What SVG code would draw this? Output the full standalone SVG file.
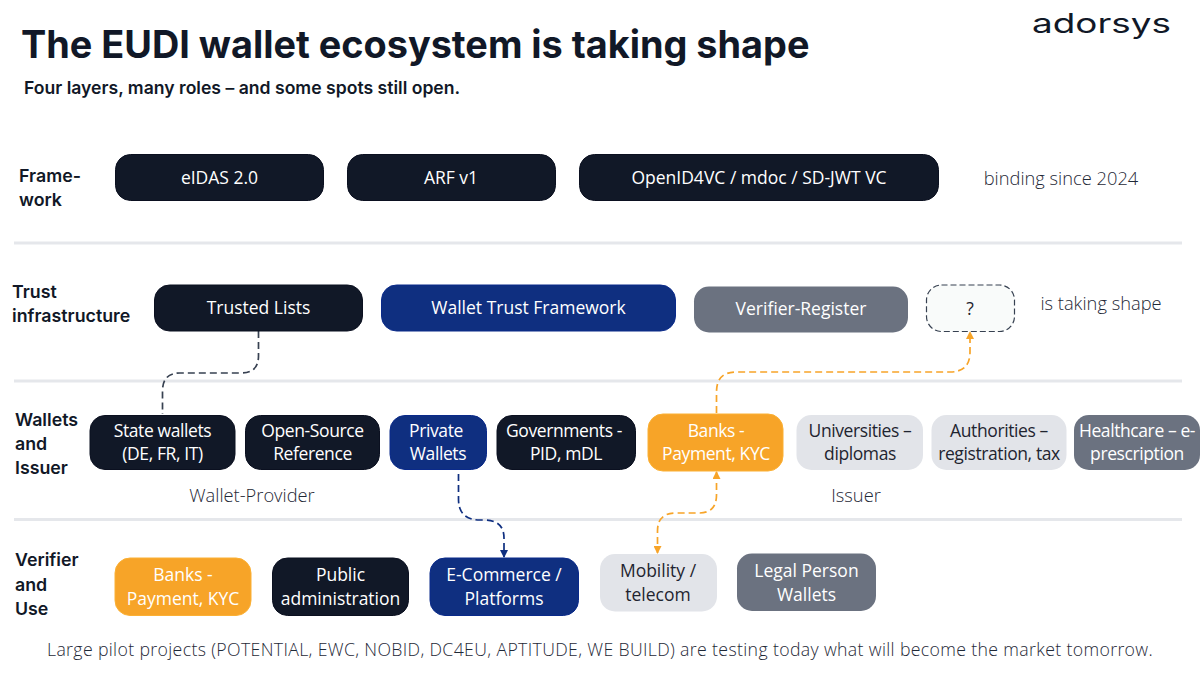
<svg xmlns="http://www.w3.org/2000/svg" width="1200" height="675" viewBox="0 0 1200 675">
<style>
text{font-family:"Open Sans","Noto Sans",sans-serif;text-anchor:middle}
.h{font-family:Inter,"Liberation Sans",sans-serif;font-weight:600;font-size:17.800px;fill:#111827;text-anchor:start}
.n{font-size:17.500px}
.m{font-size:17.500px;letter-spacing:-0.400px}
.w{fill:#fff}.d{fill:#1f2430}
.note{font-size:18.300px;fill:#1f2937;font-weight:300}
.dark{fill:#111827;stroke:#0b1020;stroke-width:1}
.blue{fill:#0f2f80;stroke:#0a2a8a;stroke-width:1}
.gray{fill:#6b7280}
.light{fill:#e2e4e9}
.org{fill:#f7a428;stroke:#fbb034;stroke-width:1}
.sep{stroke:#e5e7eb;stroke-width:3}
.c{fill:none;stroke-width:1.700;stroke-dasharray:7 4}
</style>
<defs>
<marker id="ao" viewBox="0 0 8 8" refX="7" refY="4" markerWidth="8" markerHeight="8" orient="auto-start-reverse" markerUnits="userSpaceOnUse"><path d="M0 0L8 4L0 8z" fill="#f7a428"/></marker>
<marker id="ab" viewBox="0 0 8 8" refX="7" refY="4" markerWidth="8" markerHeight="8" orient="auto" markerUnits="userSpaceOnUse"><path d="M0 0L8 4L0 8z" fill="#0f2f80"/></marker>
</defs>
<rect width="1200" height="675" fill="#fff"/>
<text x="21" y="58" style="font-family:Inter,'Liberation Sans',sans-serif;font-weight:700;font-size:37.850px;fill:#111827;text-anchor:start">The EUDI wallet ecosystem is taking shape</text>
<text x="24" y="94" style="font-family:Inter,'Liberation Sans',sans-serif;font-weight:600;font-size:17.600px;fill:#111827;text-anchor:start">Four layers, many roles – and some spots still open.</text>
<text x="1032" y="33" textLength="139" lengthAdjust="spacingAndGlyphs" style="font-family:Inter,'Liberation Sans',sans-serif;font-weight:400;font-size:27px;fill:#111827;text-anchor:start">adorsys</text>

<g id="separators">
<line class="sep" x1="14" y1="243" x2="1182" y2="243"/>
<line class="sep" x1="14" y1="381" x2="1182" y2="381"/>
<line class="sep" x1="14" y1="519.500" x2="1182" y2="519.500"/>
</g>

<g id="row-labels">
<text class="h" x="19" y="182">Frame-</text><text class="h" x="19" y="206">work</text>
<text class="h" x="12" y="298">Trust</text><text class="h" x="12" y="322">infrastructure</text>
<text class="h" x="15" y="425.500">Wallets</text><text class="h" x="15" y="449.500">and</text><text class="h" x="15" y="474">Issuer</text>
<text class="h" x="15" y="566">Verifier</text><text class="h" x="15" y="590.500">and</text><text class="h" x="15" y="614.500">Use</text>
</g>

<g id="connectors">
<path class="c" stroke="#374151" d="M258.500 331V356Q258.500 373 241 373H180Q162.500 373 162.500 391V414"/>
<path class="c" stroke="#f7a428" marker-end="url(#ao)" d="M716.500 413V392Q716.500 372 736 372H950Q970 372 970 352V332"/>
<path class="c" stroke="#f7a428" marker-start="url(#ao)" marker-end="url(#ao)" d="M716.500 472V495Q716.500 513 699 513H676Q657.500 513 657.500 531V553"/>
<path class="c" stroke="#0f2f80" marker-end="url(#ab)" d="M458.500 474V499Q458.500 520 480 520H484Q504 520 504 538V557"/>
</g>

<g id="n-eidas"><rect class="dark" x="115.500" y="154.500" width="208" height="46" rx="15"/><text class="n w" x="219.500" y="183.500">eIDAS 2.0</text></g>
<g id="n-arf"><rect class="dark" x="347.500" y="154.500" width="208" height="46" rx="15"/><text class="n w" x="451" y="183.500">ARF v1</text></g>
<g id="n-openid"><rect class="dark" x="579.500" y="154.500" width="359" height="46" rx="15"/><text class="n w" x="759" y="183.500">OpenID4VC / mdoc / SD-JWT VC</text></g>
<text class="note" x="1061" y="184.500">binding since 2024</text>

<g id="n-trusted"><rect class="dark" x="154.500" y="285" width="208" height="46" rx="15"/><text class="n w" x="258.500" y="313.500">Trusted Lists</text></g>
<g id="n-wtf"><rect class="blue" x="381.500" y="285" width="294" height="46" rx="15"/><text class="n w" x="528.500" y="313.500">Wallet Trust Framework</text></g>
<g id="n-verifier"><rect class="gray" x="694" y="286.500" width="214" height="46" rx="15"/><text class="n w" x="801" y="315">Verifier-Register</text></g>
<g id="n-q"><rect x="926.500" y="285" width="88" height="46.500" rx="15" fill="#f9fbfa" stroke="#374151" stroke-width="1.200" stroke-dasharray="6 3"/><text class="n d" x="970" y="315">?</text></g>
<text class="note" x="1101" y="310">is taking shape</text>

<g id="n-state"><rect class="dark" x="90" y="415.500" width="145" height="54" rx="15"/><text class="m w" x="162.500" y="436.500">State wallets</text><text class="m w" x="162.500" y="459.500">(DE, FR, IT)</text></g>
<g id="n-os"><rect class="dark" x="245.500" y="415.500" width="134" height="54" rx="15"/><text class="m w" x="312.500" y="436.500">Open-Source</text><text class="m w" x="312.500" y="459.500">Reference</text></g>
<g id="n-private"><rect class="blue" x="390" y="415.500" width="96.500" height="54" rx="15"/><text class="m w" x="436" y="436.500">Private</text><text class="m w" x="438" y="459.500">Wallets</text></g>
<g id="n-gov"><rect class="dark" x="497" y="415.500" width="138.500" height="54" rx="15"/><text class="m w" x="564" y="436.500">Governments -</text><text class="m w" x="566" y="459.500">PID, mDL</text></g>
<g id="n-banks1"><rect class="org" x="648" y="414" width="135" height="57" rx="15"/><text class="m w" x="716" y="436.500">Banks -</text><text class="m w" x="716" y="460">Payment, KYC</text></g>
<g id="n-uni"><rect class="light" x="796.500" y="415" width="126.500" height="55" rx="15"/><text class="m d" x="860" y="436.500">Universities –</text><text class="m d" x="860" y="459.500">diplomas</text></g>
<g id="n-auth"><rect class="light" x="931.500" y="415" width="135" height="55" rx="15"/><text class="m d" x="999" y="436.500">Authorities –</text><text class="m d" x="999" y="459.500">registration, tax</text></g>
<g id="n-health"><rect class="gray" x="1074" y="415" width="126" height="55" rx="15"/><text class="m w" x="1137" y="436.500">Healthcare – e-</text><text class="m w" x="1137" y="459.500">prescription</text></g>
<text class="note" x="252" y="502">Wallet-Provider</text>
<text class="note" x="856" y="502">Issuer</text>

<g id="n-banks2"><rect class="org" x="115" y="558" width="136" height="57.500" rx="15"/><text class="n w" x="183" y="580.500">Banks -</text><text class="n w" x="183" y="605">Payment, KYC</text></g>
<g id="n-public"><rect class="dark" x="272.500" y="558" width="136" height="57.500" rx="15"/><text class="n w" x="340.500" y="580.500">Public</text><text class="n w" x="340.500" y="605">administration</text></g>
<g id="n-ecom"><rect class="blue" x="430" y="558" width="148.500" height="57.500" rx="15"/><text class="n w" x="504" y="580.500">E-Commerce /</text><text class="n w" x="504" y="605">Platforms</text></g>
<g id="n-mobility"><rect class="light" x="600" y="554" width="117" height="57.500" rx="15"/><text class="n d" x="658" y="577">Mobility /</text><text class="n d" x="658" y="601">telecom</text></g>
<g id="n-legal"><rect class="gray" x="737" y="553.500" width="139" height="57.500" rx="15"/><text class="n w" x="806.500" y="576.500">Legal Person</text><text class="n w" x="806.500" y="600.500">Wallets</text></g>

<text x="600" y="656" style="font-size:17.700px;fill:#1f2937;font-weight:300;letter-spacing:0.350px">Large pilot projects (POTENTIAL, EWC, NOBID, DC4EU, APTITUDE, WE BUILD) are testing today what will become the market tomorrow.</text>
</svg>
